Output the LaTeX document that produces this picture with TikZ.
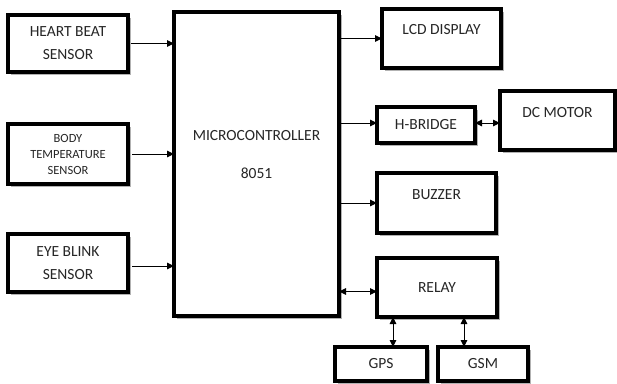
\documentclass[tikz,border=0pt]{standalone}
\usepackage{fontspec}
\setmainfont{Carlito}
\usetikzlibrary{arrows.meta,shadows}
\tikzset{
 box/.style={draw, line width=3.2pt, fill=white, outer sep=0pt, inner sep=0pt, anchor=north west,
   drop shadow={shadow xshift=2.5pt, shadow yshift=-2.5pt, opacity=0.3, fill=black}},
 lbl/.style={font=\fontsize{15.5}{23}\selectfont, align=center, text=black!85, inner sep=0pt},
 small/.style={font=\fontsize{12.5}{16}\selectfont},
 arr/.style={line width=1pt, -{Triangle[length=7pt,width=6.5pt]}},
 darr/.style={line width=1pt, {Triangle[length=7pt,width=6.5pt]}-{Triangle[length=7pt,width=6.5pt]}},
}
\begin{document}
\begin{tikzpicture}[x=1pt,y=-1pt]
\useasboundingbox (0,0) rectangle (617,383);
% boxes
\node[box, minimum width=120pt, minimum height=57pt] (hb) at (8,15) {};
\node[box, minimum width=120pt, minimum height=60pt] (bt) at (8,124) {};
\node[box, minimum width=120pt, minimum height=58pt] (eb) at (8,234) {};
\node[box, minimum width=165pt, minimum height=304pt] (mcu) at (174,12) {};
\node[box, minimum width=119pt, minimum height=59pt] (lcd) at (382,9) {};
\node[box, minimum width=98pt, minimum height=36pt] (hbr) at (377,107) {};
\node[box, minimum width=115pt, minimum height=59pt] (dc) at (500,91) {};
\node[box, minimum width=119pt, minimum height=60pt] (bz) at (377,173) {};
\node[box, minimum width=120pt, minimum height=59pt] (rl) at (377,258) {};
\node[box, minimum width=92pt, minimum height=34pt] (gps) at (335,347) {};
\node[box, minimum width=90pt, minimum height=34pt] (gsm) at (438,347) {};
% labels
\node[lbl] (hbt) at (hb.center) {HEART BEAT\\SENSOR};
\node[lbl, small] (btt) at (bt.center) {BODY\\TEMPERATURE\\SENSOR};
\node[lbl] (ebt) at (eb.center) {EYE BLINK\\SENSOR};
\node[lbl, font=\fontsize{15.5}{38}\selectfont] (mcut) at ([yshift=9pt]mcu.center) {MICROCONTROLLER\\8051};
\node[lbl] (lcdt) at ([yshift=-21pt]lcd.north) {LCD DISPLAY};
\node[lbl] (hbrt) at (hbr.center) {H-BRIDGE};
\node[lbl] (dct) at ([yshift=7.5pt]dc.center) {DC MOTOR};
\node[lbl] (bzt) at ([yshift=-22pt]bz.north) {BUZZER};
\node[lbl] (rlt) at (rl.center) {RELAY};
\node[lbl] (gpst) at (gps.center) {GPS};
\node[lbl] (gsmt) at (gsm.center) {GSM};
% connectors
\draw[arr] ([xshift=3pt]hb.east) -- (hb.east -| mcu.west);
\draw[arr] ([xshift=4pt]bt.east) -- (bt.east -| mcu.west);
\draw[arr] ([shift={(4,3)}]eb.east) -- ([shift={(0,3)}]eb.east -| mcu.west);
\draw[arr] (lcd.west -| mcu.east) -- (lcd.west);
\draw[arr] ([yshift=2pt]hbr.west -| mcu.east) -- ([yshift=2pt]hbr.west);
\draw[darr] ([yshift=2pt]hbr.east) -- ([yshift=2pt]hbr.east -| dc.west);
\draw[arr] (bz.west -| mcu.east) -- (bz.west);
\draw[darr] ([yshift=-4pt]rl.west -| mcu.east) -- ([yshift=-4pt]rl.west);
\draw[darr] ([xshift=16pt]rl.south west) -- ([xshift=16pt]rl.south west |- gps.north);
\draw[darr] ([xshift=87pt]rl.south west) -- ([xshift=87pt]rl.south west |- gsm.north);
\end{tikzpicture}
\end{document}
